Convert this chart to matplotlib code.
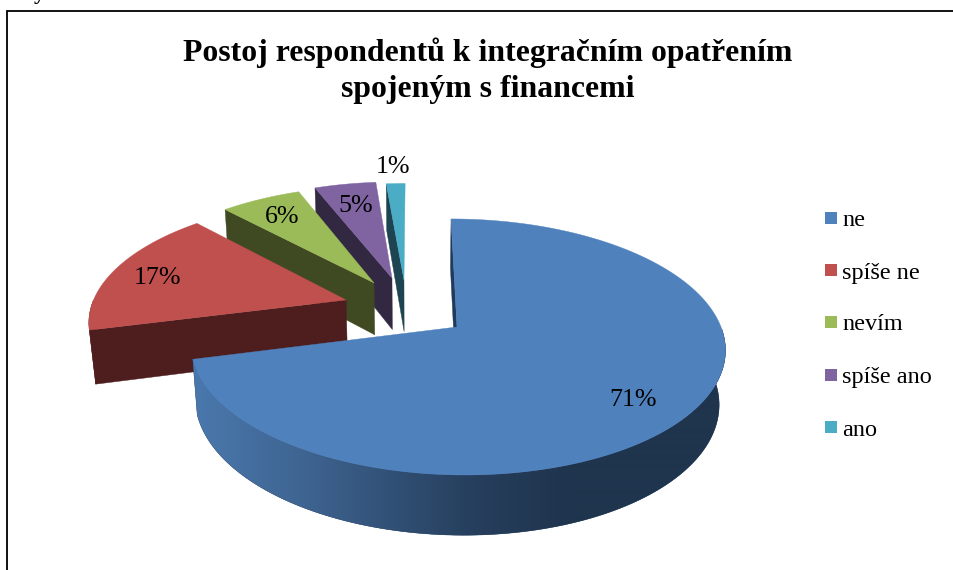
import numpy as np
import matplotlib
matplotlib.use('Agg')
import matplotlib.pyplot as plt

# data
kategorie = ['ne', 'spíše ne', 'nevím', 'spíše ano', 'ano']
hodnoty = [71, 17, 6, 4.6, 1.4]
titulek = 'Postoj respondentů k integračním opatřením\nspojeným s financemi'

# colours
barvy = ['#4f81bd', '#c0504d', '#9bbb59', '#8064a2', '#4bacc6']
tmave = ['#1f3a5c', '#4d1e1d', '#3f4a22', '#332842', '#1d4450']
stena_x = [195, 300, 465, 570, 954]
stena_barvy = np.array([[0x4a, 0x78, 0xad], [0x3f, 0x65, 0x92], [0x27, 0x40, 0x5f],
                        [0x1f, 0x34, 0x4d], [0x1f, 0x34, 0x4d]]) / 255

# how far each slice is pulled out, in pie radii (u right, v to the viewer)
vysun = [(0, 0), (-0.429, -0.224), (-0.323, -0.373), (-0.2515, -0.418), (-0.203, -0.40)]
popisky_xy = [(633, 400), (157, 278), (282, 217), (356, 206), (393, 167)]
legenda_y = [218, 270, 322, 375, 427]

# perspective of the pie
X_V, X_0, Y_0 = 413, 457, 327
B, A, H = 264, 124.9, 55
K, M = 0.156, 0.02


def projekce(u, v, z):
    w = 1 - K * v + M * z
    return X_V + (X_0 - X_V + B * u) / w, Y_0 + (A * v + H * z) / w


fig = plt.figure(figsize=(9.54, 5.70), dpi=100)
ax = fig.add_axes([0, 0, 1, 1])
ax.set_xlim(0, 954)
ax.set_ylim(570, 0)
ax.axis('off')
serif = ['Liberation Serif', 'DejaVu Serif']

# frame, open to the right and the bottom
ax.plot([7.5, 7.5, 954], [570, 10.5, 10.5], color='black', lw=1.3, solid_joinstyle='miter')
ax.text(39, -1, 'y', family=serif, fontsize=16, fontweight='bold', ha='center', va='baseline')

meze = np.radians(np.concatenate([[0], np.cumsum(hodnoty)]) * 3.6)

# the back slices first, the big blue one covers the rest
for i in [4, 3, 2, 1, 0]:
    du, dv = vysun[i]
    z0 = 2 + (4 - i) * 3
    t = np.linspace(meze[i], meze[i + 1], 181)
    su = 1 if i == 0 else 0.99
    u, v = su * np.sin(t) + du, -np.cos(t) + dv
    xh, yh = projekce(u, v, 0)
    xd, yd = projekce(u, v, 1)

    # cut wall on the side we can see
    sx_h, sy_h = projekce(du, dv, 0)
    sx_d, sy_d = projekce(du, dv, 1)
    ax.fill([sx_h, xh[0], xd[0], sx_d], [sy_h, yh[0], yd[0], sy_d], color=tmave[i],
            lw=0.3, zorder=z0)

    # outer wall, front half only
    predni = np.cos(t) < 0
    if predni.any():
        wx = np.r_[xh[predni], xd[predni][::-1]]
        wy = np.r_[yh[predni], yd[predni][::-1]]
        p = ax.fill(wx, wy, color=tmave[i], lw=0.3, zorder=z0)[0]
        if i == 0:
            # gradient along x, cut to the wall
            sx = np.arange(0, 954)
            grad = np.stack([np.interp(sx, stena_x, stena_barvy[:, n]) for n in range(3)], axis=1)
            im = ax.imshow(grad[np.newaxis, :, :], extent=[0, 954, 570, 0], aspect='auto',
                           zorder=z0 + 0.5, interpolation='bilinear')
            im.set_clip_path(p)

    # top face
    ax.fill(np.r_[sx_h, xh], np.r_[sy_h, yh], color=barvy[i], lw=0.3, zorder=z0 + 1)

ax.set_xlim(0, 954)
ax.set_ylim(570, 0)

for h, (px, py) in zip(hodnoty, popisky_xy):
    ax.text(px, py, '%.0f%%' % h, family=serif, fontsize=18.7, ha='center', va='center', zorder=30)

# legend
for naz, b, ly in zip(kategorie, barvy, legenda_y):
    ax.fill([825, 837, 837, 825], [ly - 6, ly - 6, ly + 6, ly + 6], color=b, lw=0)
    ax.text(842, ly + 0.5, naz, family=serif, fontsize=17.5, ha='left', va='center_baseline')

ax.text(487.5, 71, titulek, family=serif, fontsize=22.9, fontweight='bold', ha='center', va='center',
        linespacing=1.3)

fig.savefig('out.png', dpi=100)
